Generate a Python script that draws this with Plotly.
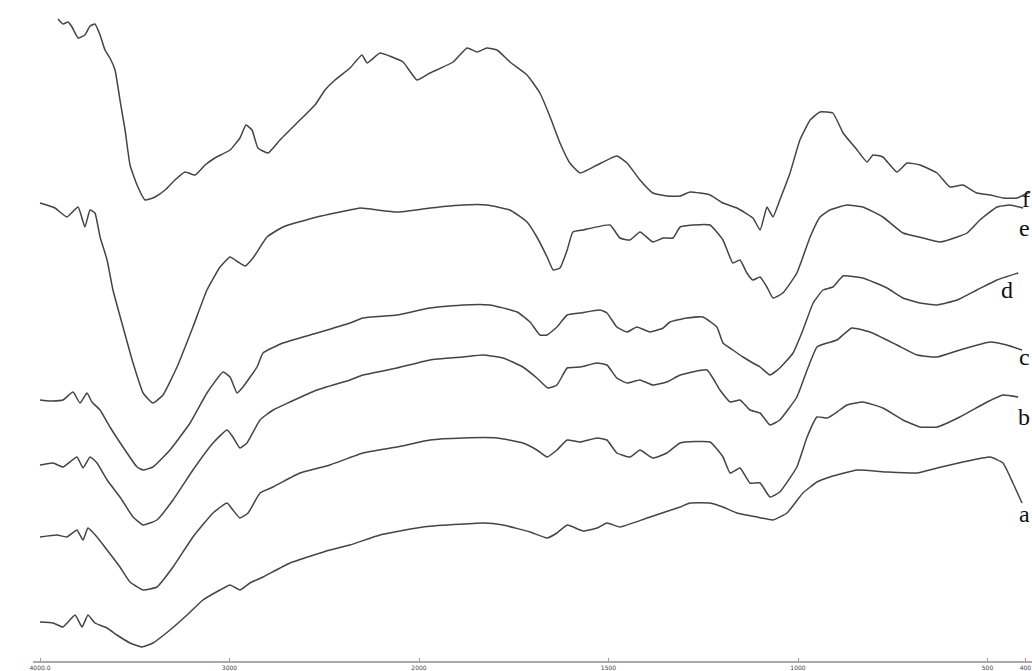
import plotly.graph_objects as go

# FTIR spectra of samples a-f, stacked (transmittance, arbitrary units with offsets)
wn_f = [3905, 3879, 3852, 3831, 3799, 3763, 3736, 3710, 3683, 3657, 3631, 3604, 3578, 3551, 3525,
        3488, 3446, 3420, 3393, 3340, 3288, 3235, 3182, 3129, 3077, 2997, 2945, 2913, 2881, 2850,
        2797, 2734, 2628, 2549, 2496, 2443, 2364, 2301, 2274, 2206, 2142, 2084, 2011, 1971, 1910,
        1873, 1847, 1821, 1794, 1760, 1715, 1681, 1654, 1628, 1602, 1575, 1530, 1478, 1451, 1417,
        1383, 1346, 1311, 1285, 1232, 1198, 1161, 1119, 1100, 1082, 1074, 1066, 1048, 1021, 995,
        968, 942, 908, 881, 844, 818, 802, 776, 739, 712, 678, 633, 599, 565, 528,
        493, 459, 422, 388]
t_f = [642, 637, 639, 634, 623, 626, 635, 637, 626, 611, 603, 591, 561, 531, 496,
       476, 461, 462, 464, 471, 481, 489, 486, 496, 503, 511, 523, 536, 531, 513,
       508, 521, 541, 556, 571, 581, 593, 606, 598, 608, 604, 599, 581, 588, 599,
       613, 609, 613, 611, 599, 586, 568, 544, 518, 498, 488, 496, 505, 498, 481,
       468, 465, 465, 469, 466, 458, 453, 443, 431, 454, 449, 444, 461, 488, 521,
       541, 549, 548, 528, 511, 499, 506, 504, 489, 498, 496, 488, 474, 476, 468,
       466, 463, 463, 469]

wn_e = [4000, 3921, 3858, 3799, 3763, 3736, 3710, 3683, 3646, 3615, 3562, 3509, 3456, 3404, 3351,
        3277, 3193, 3119, 3050, 2997, 2955, 2918, 2876, 2802, 2718, 2538, 2364, 2311, 2116, 1971,
        1884, 1821, 1760, 1715, 1689, 1662, 1646, 1628, 1609, 1594, 1567, 1496, 1470, 1443, 1417,
        1383, 1356, 1330, 1311, 1277, 1232, 1198, 1172, 1153, 1135, 1119, 1100, 1082, 1066, 1040,
        1003, 968, 942, 916, 871, 829, 776, 723, 670, 625, 580, 554, 520, 475, 441,
        406]
t_e = [458, 453, 444, 454, 434, 451, 448, 424, 401, 371, 334, 298, 268, 258, 266,
       294, 334, 371, 394, 404, 399, 395, 403, 424, 434, 444, 451, 453, 449, 453,
       456, 456, 451, 439, 424, 404, 391, 393, 411, 429, 431, 436, 423, 421, 429,
       419, 423, 423, 434, 436, 436, 421, 398, 401, 388, 381, 384, 374, 363, 368,
       388, 424, 444, 451, 456, 454, 444, 428, 423, 419, 424, 428, 441, 454, 456,
       453]

wn_d = [4000, 3947, 3879, 3826, 3789, 3752, 3726, 3683, 3631, 3562, 3488, 3456, 3404, 3314, 3208,
        3119, 3034, 2997, 2960, 2929, 2855, 2823, 2718, 2538, 2364, 2296, 2116, 1971, 1884, 1813,
        1741, 1707, 1681, 1662, 1636, 1609, 1575, 1522, 1504, 1478, 1451, 1425, 1391, 1356, 1338,
        1293, 1251, 1214, 1198, 1172, 1145, 1119, 1100, 1074, 1048, 1013, 987, 960, 934, 908,
        881, 829, 765, 723, 678, 633, 580, 528, 475, 419]
t_d = [261, 260, 261, 269, 258, 268, 259, 251, 234, 214, 194, 191, 194, 211, 238,
       268, 289, 284, 268, 274, 294, 308, 318, 328, 338, 343, 346, 353, 356, 356,
       349, 339, 326, 326, 334, 346, 348, 351, 348, 334, 329, 334, 329, 333, 339,
       343, 344, 334, 318, 311, 304, 298, 294, 286, 293, 308, 331, 358, 371, 374,
       385, 383, 373, 363, 358, 356, 361, 371, 381, 388]

wn_c = [4000, 3931, 3879, 3805, 3773, 3736, 3699, 3646, 3578, 3509, 3456, 3383, 3298, 3193, 3087,
        3013, 2982, 2945, 2908, 2839, 2770, 2681, 2538, 2364, 2296, 2116, 1971, 1884, 1831, 1778,
        1726, 1689, 1660, 1636, 1609, 1575, 1530, 1504, 1478, 1451, 1417, 1383, 1346, 1311, 1240,
        1206, 1179, 1153, 1127, 1100, 1074, 1048, 1003, 976, 950, 923, 897, 858, 810, 739,
        686, 633, 573, 493, 449, 409]
t_c = [196, 198, 194, 204, 193, 204, 198, 181, 164, 144, 136, 141, 161, 191, 218,
       231, 224, 213, 218, 241, 251, 259, 271, 281, 286, 293, 301, 304, 306, 303,
       294, 283, 273, 276, 293, 294, 298, 296, 283, 278, 281, 276, 279, 286, 291,
       271, 259, 261, 251, 248, 236, 241, 264, 291, 314, 318, 321, 333, 329, 316,
       306, 304, 311, 319, 316, 311]

wn_b = [4000, 3910, 3858, 3805, 3773, 3747, 3699, 3646, 3578, 3525, 3456, 3383, 3298, 3193, 3087,
        3013, 2982, 2945, 2902, 2839, 2770, 2681, 2628, 2470, 2296, 2116, 1971, 1884, 1794, 1726,
        1689, 1662, 1636, 1609, 1575, 1530, 1504, 1478, 1443, 1417, 1383, 1346, 1311, 1232, 1198,
        1179, 1153, 1127, 1100, 1074, 1048, 1003, 976, 950, 923, 897, 871, 829, 776, 723,
        678, 633, 573, 501, 459, 419]
t_b = [124, 126, 124, 131, 121, 133, 124, 111, 94, 79, 71, 74, 94, 124, 148,
       158, 151, 143, 148, 168, 174, 183, 188, 196, 208, 214, 221, 223, 223, 218,
       211, 204, 211, 221, 219, 223, 221, 208, 204, 211, 203, 208, 218, 219, 204,
       188, 193, 178, 178, 164, 169, 194, 224, 244, 243, 249, 256, 259, 253, 241,
       234, 234, 244, 259, 266, 264]

wn_a = [4000, 3931, 3879, 3815, 3778, 3747, 3710, 3646, 3594, 3525, 3462, 3404, 3314, 3224, 3140,
        3050, 2997, 2945, 2892, 2823, 2681, 2470, 2364, 2206, 1989, 1831, 1778, 1707, 1662, 1636,
        1609, 1567, 1530, 1504, 1470, 1398, 1311, 1285, 1232, 1198, 1161, 1108, 1066, 1029, 987,
        950, 916, 844, 765, 686, 633, 565, 493, 459, 433, 409]
t_a = [39, 38, 34, 46, 34, 46, 38, 33, 26, 18, 14, 18, 31, 46, 61,
       71, 76, 71, 78, 84, 98, 111, 116, 126, 134, 138, 136, 129, 123, 128,
       136, 130, 133, 138, 134, 143, 154, 158, 158, 154, 148, 144, 141, 148, 168,
       179, 184, 191, 189, 188, 193, 199, 204, 198, 178, 158]

series_names = ["f", "e", "d", "c", "b", "a"]
series_wn = [wn_f, wn_e, wn_d, wn_c, wn_b, wn_a]
series_t = [t_f, t_e, t_d, t_c, t_b, t_a]

tick_wn = [4000, 3000, 2000, 1500, 1000, 500, 400]
tick_text = ["4000.0", "3000", "2000", "1500", "1000", "500", "400"]


def scale(w):
    """Instrument-style split abscissa: 1000 cm-1 per division above 2000, 500 below."""
    if w >= 2000:
        return (4000 - w) / 1000.0
    return 2.0 + (2000 - w) / 500.0


W, H = 1032, 671
ML, MR, MT, MB = 33, 0, 0, 10
PX_PER_DIV = 189.5
ORIGIN_PX = 40

fig = go.Figure()
for name, wn, t in zip(series_names, series_wn, series_t):
    fig.add_trace(go.Scatter(
        x=[scale(w) for w in wn], y=t, mode="lines", name=name,
        line=dict(color="#444444", width=1.5, shape="spline", smoothing=0.4),
        showlegend=False, hoverinfo="skip",
    ))

plot_w = W - ML - MR
x0 = (ML - ORIGIN_PX) / PX_PER_DIV
x1 = x0 + plot_w / PX_PER_DIV


def paper_x(px):
    return (px - ML) / plot_w


def paper_y(py):
    return (H - MB - py) / (H - MT - MB)


# curve labels at the right-hand end of each spectrum (x, y, anchor)
label_pos = {"f": (1032, 199, "right"), "e": (1032, 228, "right"), "d": (999, 290, "left"),
             "c": (1032, 357, "right"), "b": (1032, 417, "right"), "a": (1032, 514, "right")}
for name, (px, py, anchor) in label_pos.items():
    fig.add_annotation(
        x=paper_x(px), y=paper_y(py), xref="paper", yref="paper",
        text=name, showarrow=False, xanchor=anchor, yanchor="middle",
        font=dict(family="Liberation Serif", size=24, color="#111111"),
    )

fig.update_layout(
    width=W, height=H,
    margin=dict(l=ML, r=MR, t=MT, b=MB, pad=0),
    paper_bgcolor="white", plot_bgcolor="white",
    xaxis=dict(
        range=[x0, x1], showgrid=False, zeroline=False,
        showline=True, linecolor="#a9a9a9", linewidth=1.5,
        tickmode="array", tickvals=[scale(w) for w in tick_wn], ticktext=tick_text,
        ticks="inside", ticklen=3, tickwidth=1, tickcolor="#9a9a9a",
        tickfont=dict(family="DejaVu Sans", size=6, color="#444444"),
    ),
    yaxis=dict(range=[0, H - MT - MB], visible=False),
)

fig.write_html("out.html")
